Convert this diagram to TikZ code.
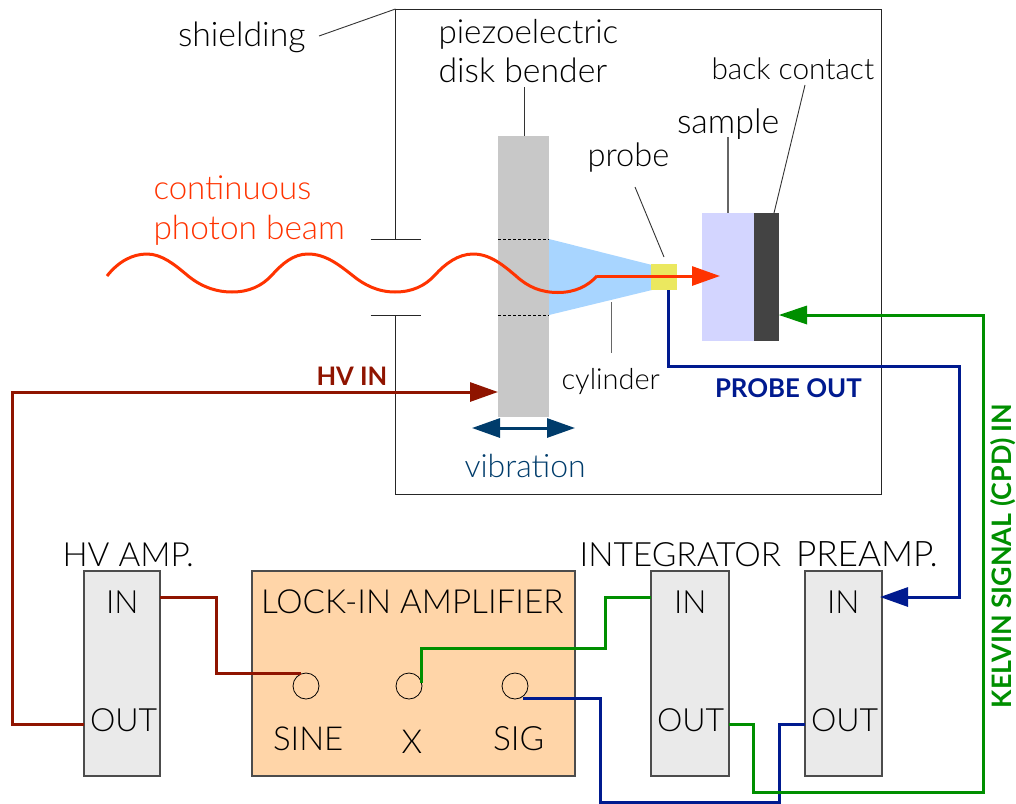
\documentclass[tikz,border=0pt]{standalone}
\usepackage{fontspec}
\setmainfont{Lato}[UprightFont=* Light,BoldFont=* Bold]
\usetikzlibrary{arrows.meta,calc}
\definecolor{cdred}{HTML}{8F1400}
\definecolor{cgreen}{HTML}{008F00}
\definecolor{cnavy}{HTML}{001A8F}
\definecolor{cvib}{HTML}{003C6B}
\definecolor{cred}{HTML}{FF3300}
\definecolor{cbox}{HTML}{EAEAEA}
\definecolor{corange}{HTML}{FFD5A8}
\definecolor{cdisk}{HTML}{C8C8C8}
\definecolor{ccyl}{HTML}{A8D5FF}
\definecolor{cprobe}{HTML}{EBE85F}
\definecolor{csample}{HTML}{D3D5FF}
\definecolor{ccontact}{HTML}{434343}
\tikzset{
  txt/.style={anchor=base west,inner sep=0pt,outer sep=0pt,font=\fontsize{#1}{#1}\selectfont},
  btxt/.style={anchor=base west,inner sep=0pt,outer sep=0pt,font=\fontsize{#1}{#1}\selectfont\bfseries},
  unit/.style={draw=black!70,line width=1.2pt,fill=cbox,minimum width=76pt,minimum height=205pt,inner sep=0pt,outer sep=0pt},
  part/.style={inner sep=0pt,outer sep=0pt,draw=none},
  port/.style={circle,draw=black,line width=0.8pt,minimum size=26pt,inner sep=0pt,outer sep=0pt},
  wall/.style={draw=black!85,line width=0.9pt},
  leader/.style={draw=black!80,line width=0.9pt},
  wire/.style={line width=#1,line join=miter},
  tip/.style={-{Triangle[length=28pt,width=19pt]}}
}
\begin{document}
\begin{tikzpicture}[x=1pt,y=-1pt]
\useasboundingbox (0,0) rectangle (1016,803);
% shielding
\coordinate (shTL) at (395.5,9);
\coordinate (shTR) at (881,9);
\coordinate (shBR) at (881,494);
\coordinate (shBL) at (395.5,494);
\coordinate (gapT) at (395.5,239);
\coordinate (gapB) at (395.5,315);
\draw[wall] (gapT) -- (shTL) -- (shTR) -- (shBR) -- (shBL) -- (gapB);
\draw[wall] (370.5,239) -- (421,239);
\draw[wall] (370.5,315) -- (421,315);
% parts
\node[part,fill=cdisk,minimum width=51pt,minimum height=281pt] (disk) at (523.5,276.5) {};
\draw[black,line width=0.8pt,densely dashed] (498,239) -- (549,239);
\draw[black,line width=0.8pt,densely dashed] (498,315) -- (549,315);
\fill[ccyl] (549,239) -- (652,265) -- (652,290) -- (549,315) -- cycle;
\node[part,fill=cprobe,minimum width=26pt,minimum height=26pt] (probe) at (664,277) {};
\node[part,fill=csample,minimum width=52pt,minimum height=128pt] (sample) at (728,277) {};
\node[part,fill=ccontact,minimum width=25pt,minimum height=128pt] (contact) at (766.5,277) {};
% text labels
\node[txt=33.8] (tshield) at (178,46) {shielding};
\node[txt=33.2] (tpiezo) at (438.5,43) {piezoelectric};
\node[txt=33.8] (tdisk) at (438.5,82) {disk bender};
\node[txt=29.8] (tback) at (711.5,79) {back contact};
\node[txt=34] (tsample) at (677,133) {sample};
\node[txt=32.6] (tprobe) at (587.5,166) {probe};
\node[txt=29] (tcyl) at (561.5,389) {cylinder};
\node[txt=33,text=cred] (tcont) at (153.5,199) {continuous};
\node[txt=33.4,text=cred] (tphot) at (153.5,239) {photon beam};
\node[btxt=25.5,text=cdred] (thv) at (316.5,385) {HV IN};
\node[btxt=25.8,text=cnavy] (tpo) at (715,397) {PROBE OUT};
\node[txt=32,text=cvib] (tvib) at (464.5,477) {vibration};
\node[btxt=26.8,text=cgreen,rotate=90] (tkel) at (1011.5,708) {KELVIN SIGNAL (CPD) IN};
% leaders
\coordinate (lsh) at (319,36);
\draw[leader] (lsh) -- (shTL);
\coordinate (ldisk) at (524,87);
\draw[leader] (ldisk) -- (ldisk |- disk.north);
\coordinate (lprobe) at (635,187);
\coordinate (lprobe2) at (664,257);
\draw[leader] (lprobe) -- (lprobe2);
\coordinate (lcyl) at (611,302);
\coordinate (lcyl2) at (611,353);
\draw[draw=black!60,line width=1pt] (lcyl) -- (lcyl2);
\coordinate (lsam) at (728,137);
\draw[draw=black!60,line width=1.2pt] (lsam) -- (lsam |- sample.north);
\coordinate (lback) at (805,85);
\coordinate (lback2) at (774,213);
\draw[leader] (lback) -- (lback2);
% instruments
\node[unit] (hv) at (122,673.5) {};
\node[unit,minimum width=323pt,fill=corange] (lock) at (413.5,673.5) {};
\node[unit,minimum width=78pt] (integ) at (690,673.5) {};
\node[unit,minimum width=77pt] (pre) at (843.5,673.5) {};
\node[port] (sine) at (306,686) {};
\node[port] (x) at (409,686) {};
\node[port] (sig) at (515,686) {};
\node[txt=33.3] (lhv) at (62.5,566) {HV AMP.};
\node[txt=33.5] (lint) at (579.5,566) {INTEGRATOR};
\node[txt=35.2] (lpre) at (796,566) {PREAMP.};
\node[txt=33.2] (llock) at (261,613) {LOCK-IN AMPLIFIER};
\node[txt=33] (ssine) at (273,750) {SINE};
\node[txt=33] (sx) at (401.5,753) {X};
\node[txt=33.5] (ssig) at (493,750) {SIG};
\node[txt=32] (hvin) at (106,613) {IN};
\node[txt=32] (hvout) at (90,731) {OUT};
\node[txt=32] (intin) at (674,613) {IN};
\node[txt=32] (intout) at (657,731) {OUT};
\node[txt=32] (prein) at (827,613) {IN};
\node[txt=32] (preout) at (811,731) {OUT};
% ports on the boxes
\coordinate (hvI) at (160,597);
\coordinate (hvO) at (84,724);
\coordinate (intI) at (651,597);
\coordinate (intO) at (729,724);
\coordinate (preI) at (880,597);
\coordinate (preO) at (805,724);
% wires
\draw[wire=3pt,cdred,tip] (hvO) -- (12.5,724) -- (12.5,392) -- (disk.west |- 0,392);
\draw[wire=3pt,cdred] (hvI) -- (216.5,597) -- (216.5,673) -- (301,673);
\draw[wire=3pt,cgreen] (421,683) -- (421,648) -- (605,648) -- (605,597) -- (intI);
\draw[wire=3pt,cnavy] (523,698) -- (600,698) -- (600,802) -- (779,802) -- (779,724) -- (preO);
\draw[wire=3pt,cgreen] (intO) -- (753,724) -- (753,792) -- (983,792) -- (983,315) -- (800,315);
\fill[cgreen] (contact.east |- 0,315) -- ++(28,-9.5) -- ++(0,19) -- cycle;
\draw[wire=3pt,cnavy,tip] (probe.south -| 668,0) -- (668,366) -- (959,366) -- (959,597) -- (preI);
% beam
\coordinate (bstart) at (107,276);
\coordinate (btip) at (720,276);
\draw[cred,line width=3pt,line join=round]
 (bstart) .. controls (118,262) and (132,254) .. (147,254)
 .. controls (162,254) and (175,265) .. (187,275)
 .. controls (200,286) and (215,292) .. (232,292)
 .. controls (249,292) and (262,286) .. (272,275)
 .. controls (282,264) and (293,254) .. (308,254)
 .. controls (325,254) and (338,264) .. (352,275)
 .. controls (364,285) and (378,292) .. (395,292)
 .. controls (412,292) and (425,286) .. (435,275)
 .. controls (445,264) and (458,254) .. (473,254)
 .. controls (490,254) and (503,265) .. (516,276)
 .. controls (528,287) and (541,292.5) .. (558,292.5)
 .. controls (575,292.5) and (588,286) .. (597,276);
\draw[wire=3pt,cred,tip] (597,276) -- (btip);
% vibration
\coordinate (vl) at (472,428);
\coordinate (vr) at (575,428);
\draw[wire=3pt,cvib,{Triangle[length=28pt,width=19pt]}-{Triangle[length=28pt,width=19pt]}] (vl) -- (vr);
\end{tikzpicture}
\end{document}
